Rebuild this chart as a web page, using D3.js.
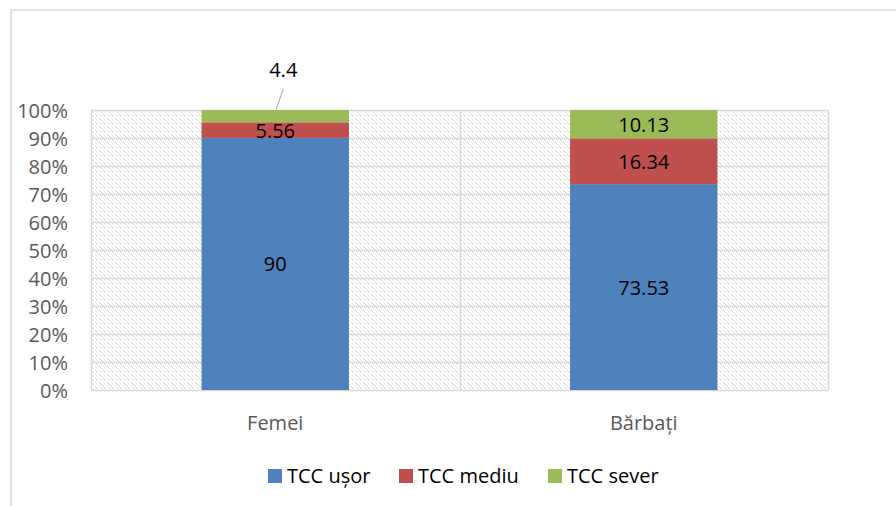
<!DOCTYPE html>
<html>
<head>
<meta charset="utf-8">
<script src="https://cdn.jsdelivr.net/npm/d3@7"></script>
<style>
  html, body { margin: 0; padding: 0; background: #fff; }
  svg { display: block; font-family: "Open Sans", "Noto Sans", sans-serif; }
</style>
</head>
<body>
<svg id="chart" width="896" height="506"></svg>
<script>
const categories = ["Femei", "Bărbați"];
const seriesNames = ["TCC ușor", "TCC mediu", "TCC sever"];
const seriesColors = ["#4f81bd", "#c0504d", "#9bbb59"];
const usorValues = [90, 73.53];
const mediuValues = [5.56, 16.34];
const severValues = [4.4, 10.13];
const yTicks = [0, 0.1, 0.2, 0.3, 0.4, 0.5, 0.6, 0.7, 0.8, 0.9, 1.0];

(function () {
const svg = d3.select("#chart");
const pLeft = 91, pRight = 828, pTop = 110, pBottom = 390;

// chart border
svg.append("rect").attr("x", 11).attr("y", 10).attr("width", 900).attr("height", 510)
  .attr("fill", "#fff").attr("stroke", "#d9d9d9").attr("stroke-width", 1.5);

// hatch pattern
const defs = svg.append("defs");
const pat = defs.append("pattern").attr("id", "hatch").attr("patternUnits", "userSpaceOnUse")
  .attr("width", 8).attr("height", 8).attr("x", pLeft).attr("y", pTop);
pat.append("rect").attr("width", 8).attr("height", 8).attr("fill", "#fff");
[[0,0],[1,1],[2,2],[4,4],[5,5],[6,6]].forEach(([px, py]) =>
  pat.append("rect").attr("x", px).attr("y", py).attr("width", 1).attr("height", 1).attr("fill", "#cfcfcf"));
[[4,0],[5,1],[6,2],[0,4],[1,5],[2,6]].forEach(([px, py]) =>
  pat.append("rect").attr("x", px).attr("y", py).attr("width", 1).attr("height", 1).attr("fill", "#e6e6e6"));

const x = d3.scaleBand().domain(categories).range([pLeft, pRight]).paddingInner(0.6).paddingOuter(0.3);
const y = d3.scaleLinear().domain([0, 1]).range([pBottom, pTop]);

svg.append("rect").attr("x", pLeft).attr("y", pTop).attr("width", pRight - pLeft).attr("height", pBottom - pTop)
  .attr("fill", "url(#hatch)");

// gridlines
svg.append("g").selectAll("line").data(yTicks).join("line")
  .attr("x1", pLeft).attr("x2", pRight)
  .attr("y1", d => Math.round(y(d)) + 0.5).attr("y2", d => Math.round(y(d)) + 0.5)
  .attr("stroke", "#d9d9d9").attr("stroke-width", 1.5);
// vertical lines (plot edges and category boundary)
const vLines = [pLeft, (x(categories[0]) + x.bandwidth() + x(categories[1])) / 2, pRight];
svg.append("g").selectAll("line").data(vLines).join("line")
  .attr("x1", d => Math.round(d) + 0.5).attr("x2", d => Math.round(d) + 0.5)
  .attr("y1", pTop).attr("y2", pBottom)
  .attr("stroke", "#d9d9d9").attr("stroke-width", 1.5);

// stack
const rows = categories.map((c, i) => ({ cat: c, s0: usorValues[i], s1: mediuValues[i], s2: severValues[i] }));
const stack = d3.stack().keys(["s0", "s1", "s2"]).offset(d3.stackOffsetExpand);
const layers = stack(rows);

const g = svg.append("g");
layers.forEach((layer, li) => {
  g.selectAll(null).data(layer).join("rect")
    .attr("x", d => x(d.data.cat))
    .attr("width", x.bandwidth())
    .attr("y", d => y(d[1]))
    .attr("height", d => y(d[0]) - y(d[1]))
    .attr("fill", seriesColors[li]);
});

// labels
const labelFont = 20;
layers.forEach((layer, li) => {
  layer.forEach(d => {
    const val = d.data[layer.key];
    const cx = x(d.data.cat) + x.bandwidth() / 2;
    const seg = y(d[0]) - y(d[1]);
    if (seg < 14) {
      const ly = y(d[1]) - 41;
      svg.append("line")
        .attr("x1", cx + 1).attr("y1", y(d[1]) - 1)
        .attr("x2", cx + 8).attr("y2", y(d[1]) - 21)
        .attr("stroke", "#a6a6a6").attr("stroke-width", 1);
      svg.append("text").attr("x", cx + 8).attr("y", ly)
        .attr("text-anchor", "middle").attr("dominant-baseline", "central")
        .attr("font-size", labelFont).attr("fill", "#000").text(val);
    } else {
      svg.append("text").attr("x", cx).attr("y", (y(d[0]) + y(d[1])) / 2)
        .attr("text-anchor", "middle").attr("dominant-baseline", "central")
        .attr("font-size", labelFont).attr("fill", "#000").text(val);
    }
  });
});

// y axis labels
svg.append("g").selectAll("text").data(yTicks).join("text")
  .attr("x", 68).attr("y", d => y(d))
  .attr("text-anchor", "end").attr("dominant-baseline", "central")
  .attr("font-size", 20).attr("fill", "#595959")
  .text(d => d3.format(".0%")(d));

// x axis labels
svg.append("g").selectAll("text").data(categories).join("text")
  .attr("x", d => x(d) + x.bandwidth() / 2).attr("y", 422)
  .attr("text-anchor", "middle").attr("dominant-baseline", "central")
  .attr("font-size", 20).attr("fill", "#595959").text(d => d);

// legend
const legendX = [268, 399, 548];
const lg = svg.append("g");
seriesNames.forEach((name, i) => {
  lg.append("rect").attr("x", legendX[i]).attr("y", 469).attr("width", 14).attr("height", 14)
    .attr("fill", seriesColors[i]);
  lg.append("text").attr("x", legendX[i] + 19).attr("y", 475)
    .attr("dominant-baseline", "central").attr("font-size", 20).attr("fill", "#000").text(name);
});
})();
</script>
</body>
</html>
